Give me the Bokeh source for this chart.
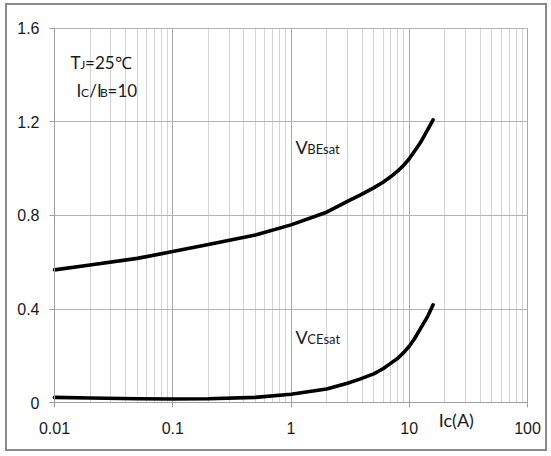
from bokeh.plotting import figure
from bokeh.models import FixedTicker, NumeralTickFormatter, Range1d, Label, BoxAnnotation
from bokeh.embed import file_html
from bokeh.resources import INLINE

# ---- data ----
ic_vbe = [0.01, 0.02, 0.05, 0.1, 0.2, 0.5, 1, 2, 3, 3.87, 5, 6, 7, 8, 9, 10, 11, 12.4, 14.2, 15.9]
vbe_sat = [0.568, 0.589, 0.617, 0.646, 0.676, 0.717, 0.760, 0.814, 0.860, 0.888, 0.918, 0.942,
           0.966, 0.990, 1.015, 1.042, 1.072, 1.110, 1.163, 1.208]
ic_vce = [0.01, 0.02, 0.05, 0.1, 0.2, 0.5, 1, 2, 3, 3.87, 5, 6, 7, 8, 9, 10, 11, 12.4, 14.2, 15.9]
vce_sat = [0.024, 0.021, 0.018, 0.017, 0.018, 0.024, 0.037, 0.060, 0.084, 0.103, 0.124, 0.146,
           0.170, 0.191, 0.216, 0.242, 0.272, 0.316, 0.366, 0.419]

x_ticks = [0.01, 0.1, 1, 10, 100]
x_minor = [m * d for d in [0.01, 0.1, 1, 10] for m in range(2, 10)]
y_ticks = [0, 0.4, 0.8, 1.2, 1.6]
X_MIN, X_MAX = 0.01, 100
Y_MIN, Y_MAX = 0, 1.6

# blank margins (inside the frame) that hold tick labels and the axis title
PAD_L_DEC, PAD_R_DEC = 0.3805, 0.169      # decades
PAD_B, PAD_T = 0.19, 0.0747               # volts

ANNF = "Lato"
TICKF = "Liberation Sans"

p = figure(width=542, height=448, x_axis_type="log",
           x_range=Range1d(X_MIN / 10 ** PAD_L_DEC, X_MAX * 10 ** PAD_R_DEC),
           y_range=Range1d(Y_MIN - PAD_B, Y_MAX + PAD_T),
           output_backend="svg", toolbar_location=None,
           min_border_left=2, min_border_right=2, min_border_top=5, min_border_bottom=6)
p.styles = {"border": "2px solid #8a8a8a", "margin-left": "5px", "margin-top": "3px"}
p.outline_line_color = None
p.background_fill_color = "white"
p.border_fill_color = "white"

p.xaxis.ticker = FixedTicker(ticks=x_ticks, minor_ticks=x_minor)
p.yaxis.ticker = FixedTicker(ticks=y_ticks)
p.xaxis.formatter = NumeralTickFormatter(format="0.[00]")
p.yaxis.formatter = NumeralTickFormatter(format="0.[0]")
p.xaxis.fixed_location = Y_MIN
p.yaxis.fixed_location = X_MIN
p.xaxis.bounds = (X_MIN, X_MAX)
p.yaxis.bounds = (Y_MIN, Y_MAX)

for ax in (p.xaxis, p.yaxis):
    ax.axis_line_color = "#a0a0a0"
    ax.major_tick_line_color = "#a0a0a0"
    ax.major_tick_in = 0
    ax.major_tick_out = 5
    ax.minor_tick_line_color = None
    ax.major_label_text_font = TICKF
    ax.major_label_text_font_size = "16px"
    ax.major_label_text_color = "#1a1a1a"
p.xaxis.major_label_standoff = 14
p.yaxis.major_label_standoff = 10

p.xgrid.grid_line_color = "#a8a8a8"
p.xgrid.minor_grid_line_color = "#d4d4d4"
p.ygrid.grid_line_color = "#b4b4b4"

xg, yg = p.xgrid[0], p.ygrid[0]
if "cross_bounds" in xg.properties():
    xg.bounds = (X_MIN, X_MAX)
    xg.cross_bounds = (Y_MIN, Y_MAX)
    yg.bounds = (Y_MIN, Y_MAX)
    yg.cross_bounds = (X_MIN, X_MAX)
else:
    hy, hx = 0.6 / 234.3, 0.6 / 118.25
    for kw in (dict(top=Y_MIN - hy), dict(bottom=Y_MAX + hy),
               dict(right=X_MIN / 10 ** hx), dict(left=X_MAX * 10 ** hx)):
        p.add_layout(BoxAnnotation(fill_color="white", fill_alpha=1.0, line_color=None,
                                   level="underlay", editable=False, **kw))

p.line(ic_vbe, vbe_sat, line_color="black", line_width=3.6, line_join="round", line_cap="round")
p.line(ic_vce, vce_sat, line_color="black", line_width=3.6, line_join="round", line_cap="round")

K = 0.39  # baseline-to-middle ratio of the font box


def txt(x, y, dx, dy, s, size):
    # dy: offset (px, up) of the text baseline from the anchor point
    p.add_layout(Label(x=x, y=y, x_offset=dx, y_offset=dy + K * size, text=s,
                       text_font=ANNF, text_font_size=f"{size}px",
                       text_color="#1a1a1a", text_baseline="middle", text_align="left"))

# T_J = 25 C  (anchor: top-left corner of the grid)
txt(X_MIN, Y_MAX, 16.0, -40.8, "T", 17)
txt(X_MIN, Y_MAX, 25.7, -40.8, "J", 12)
txt(X_MIN, Y_MAX, 30.6, -40.8, "=25℃", 17)
# I_C / I_B = 10
txt(X_MIN, Y_MAX, 22.0, -69.2, "I", 17)
txt(X_MIN, Y_MAX, 26.6, -69.2, "C", 12)
txt(X_MIN, Y_MAX, 34.8, -69.2, "/I", 17)
txt(X_MIN, Y_MAX, 45.5, -69.2, "B", 12)
txt(X_MIN, Y_MAX, 53.1, -69.2, "=10", 17)
# V_BEsat
txt(1, 0.8, 4.5, 61.7, "V", 18)
txt(1, 0.8, 16.3, 61.7, "BEsat", 13)
# V_CEsat
txt(1, 0.4, 4.5, -34.6, "V", 18)
txt(1, 0.4, 16.3, -34.6, "CEsat", 13)
# axis title
txt(10, 0, 29.5, -24.3, "Ic(A)", 18)

open("out.html", "w").write(file_html(p, INLINE))
